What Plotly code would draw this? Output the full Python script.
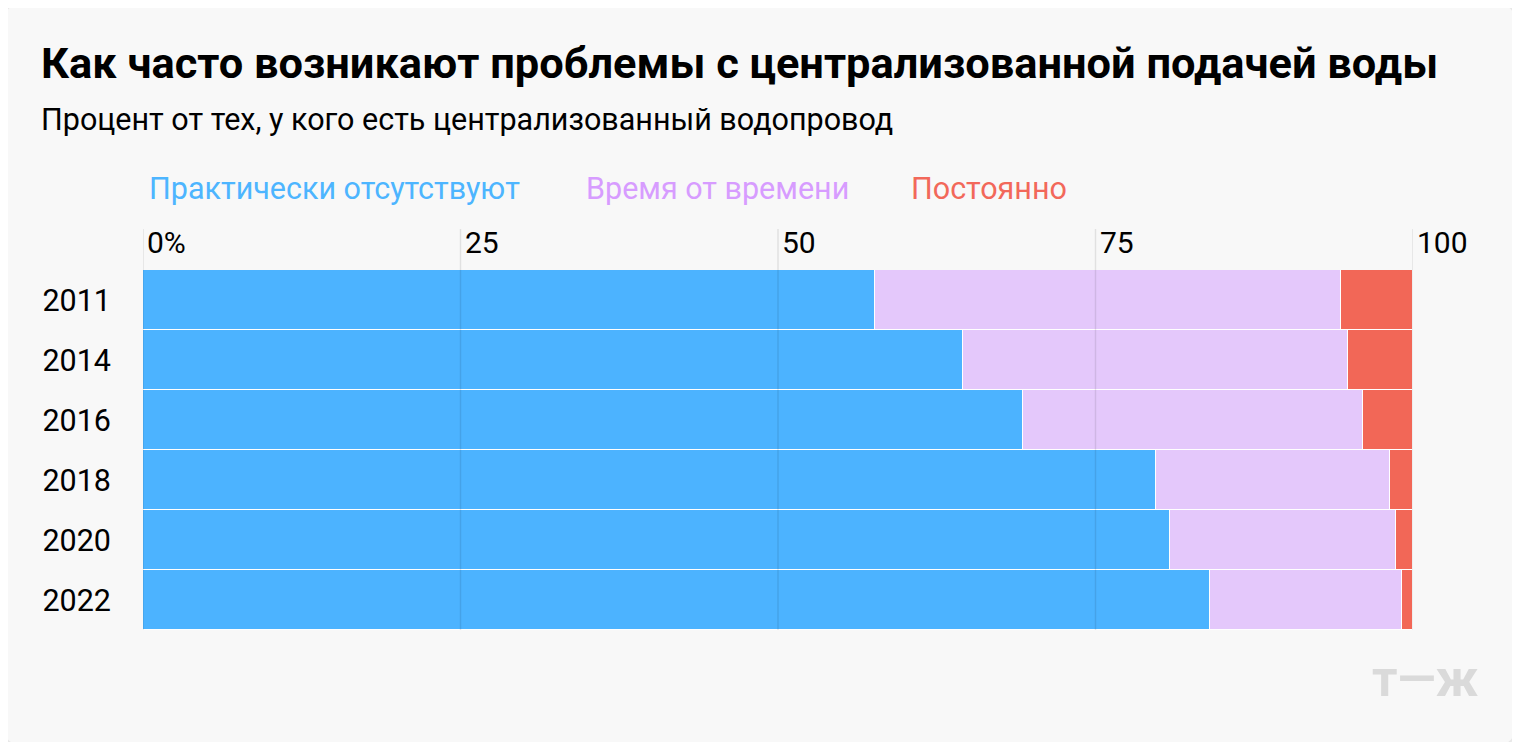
import plotly.graph_objects as go

# data
years = ["2011", "2014", "2016", "2018", "2020", "2022"]
rarely = [57.6, 64.6, 69.3, 79.8, 80.9, 84.0]
sometimes = [36.7, 30.3, 26.8, 18.4, 17.8, 15.1]
always = [5.7, 5.1, 3.9, 1.8, 1.3, 0.9]
series_names = ["Практически отсутствуют", "Время от времени", "Постоянно"]
tick_vals = [0, 25, 50, 75, 100]
tick_text = ["0%", "25", "50", "75", "100"]

bar_colors = ["#4cb3ff", "#e4c8fb", "#f26757"]
label_colors = ["#4db5ff", "#d79cff", "#f2685a"]
FONT = "Roboto"

# page has an 8px body margin, so work in screen pixels and shift
OFF = 8
W, H = 1520 - 2 * OFF, 750 - 2 * OFF
# plot area in screen pixels: x 143..1413, y 270..630
L, R, T, B = 143, 1413, 270, 630


def px(x):
    return (x - L) / (R - L)


def py(y):
    return (B - y) / (B - T)


fig = go.Figure()
for name, vals, col in zip(series_names, [rarely, sometimes, always], bar_colors):
    fig.add_trace(go.Bar(
        y=years, x=vals, name=name, orientation="h",
        marker=dict(color=col, line=dict(color="white", width=1.5)),
        hoverinfo="x+y",
    ))

# rounded card behind everything
r = 24
x0, x1, y0, y1 = 2, 1517, 2, 747
path = (f"M {px(x0 + r)},{py(y0)} L {px(x1 - r)},{py(y0)} Q {px(x1)},{py(y0)} {px(x1)},{py(y0 + r)} "
        f"L {px(x1)},{py(y1 - r)} Q {px(x1)},{py(y1)} {px(x1 - r)},{py(y1)} "
        f"L {px(x0 + r)},{py(y1)} Q {px(x0)},{py(y1)} {px(x0)},{py(y1 - r)} "
        f"L {px(x0)},{py(y0 + r)} Q {px(x0)},{py(y0)} {px(x0 + r)},{py(y0)} Z")
shapes = [dict(type="path", xref="paper", yref="paper", path=path, layer="below",
               fillcolor="#f8f8f8", line=dict(color="#e8e8e8", width=2))]

# gridlines drawn over the bars
for v in tick_vals:
    shapes.append(dict(type="line", xref="x", yref="paper", x0=v, x1=v,
                       y0=0, y1=py(229), layer="above",
                       line=dict(color="rgba(0,0,0,0.09)", width=1.5)))

annotations = [
    dict(text="<b>Как часто возникают проблемы с централизованной подачей воды</b>",
         xref="paper", yref="paper", x=px(39), y=py(63), xanchor="left", yanchor="middle",
         showarrow=False, font=dict(family=FONT, size=43.4, color="#000")),
    dict(text="Процент от тех, у кого есть централизованный водопровод",
         xref="paper", yref="paper", x=px(39), y=py(120), xanchor="left", yanchor="middle",
         showarrow=False, font=dict(family=FONT, size=30.5, color="#000")),
    dict(text="т—ж", xref="paper", yref="paper", x=px(1481), y=py(679),
         xanchor="right", yanchor="middle", showarrow=False,
         font=dict(family=FONT, size=50, color="#dadada", weight="bold")),
]
legend_x = [147, 584, 909]
for name, col, lx in zip(series_names, label_colors, legend_x):
    annotations.append(dict(text=name, xref="paper", yref="paper", x=px(lx), y=py(189),
                            xanchor="left", yanchor="middle", showarrow=False,
                            font=dict(family=FONT, size=30.5, color=col)))
for v, t in zip(tick_vals, tick_text):
    annotations.append(dict(text=t, xref="x", yref="paper", x=v, y=py(242),
                            xanchor="left", yanchor="middle", xshift=2, showarrow=False,
                            font=dict(family=FONT, size=30, color="#000")))

fig.update_layout(
    width=W, height=H,
    margin=dict(l=L - OFF, r=W - (R - OFF), t=T - OFF, b=H - (B - OFF)),
    paper_bgcolor="white", plot_bgcolor="rgba(0,0,0,0)",
    barmode="stack", bargap=0,
    showlegend=False,
    shapes=shapes, annotations=annotations,
    xaxis=dict(range=[0, 100], showgrid=False, zeroline=False, showticklabels=False,
               fixedrange=True),
    yaxis=dict(autorange="reversed", showgrid=False, zeroline=False, ticks="",
               ticklabelstandoff=31, fixedrange=True,
               tickfont=dict(family=FONT, size=30.5, color="#000")),
    font=dict(family=FONT),
)

fig.write_html("out.html")
